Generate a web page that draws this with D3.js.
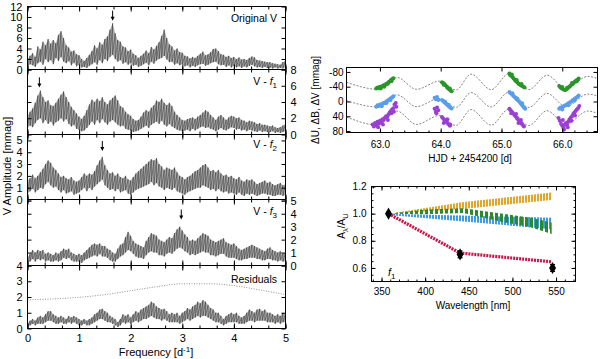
<!DOCTYPE html>
<html>
<head>
<meta charset="utf-8">
<script src="https://cdn.jsdelivr.net/npm/d3@7"></script>
<style>
  body { margin: 0; background: #fff; }
  svg text { font-family: "Liberation Sans", Arial, sans-serif; fill: #000; }
</style>
</head>
<body>
<div id="chart"></div>
<script>
// ---- periodograms: amplitude [mmag] sampled every 0.05 c/d, peaks (hi) and troughs (lo)
const freqs = d3.range(101).map(i => i * 0.05);

const origHi = [2.0,2.6,3.1,2.4,4.4,3.8,5.3,4.6,5.8,4.9,5.6,5.0,6.6,7.3,6.0,4.6,4.2,3.4,3.6,2.9,
  2.7,2.0,1.6,2.2,2.8,3.5,4.6,4.0,5.2,4.7,5.8,6.3,7.6,8.8,6.9,5.6,5.3,4.4,4.2,3.5,
  3.8,3.0,2.7,2.2,2.6,3.0,3.6,3.1,4.3,3.8,4.5,5.2,6.4,7.6,6.0,4.8,4.4,3.6,4.0,3.3,
  3.2,2.6,2.5,2.1,2.4,2.2,2.6,3.0,3.4,2.7,2.9,3.3,3.9,4.0,3.5,2.9,2.8,2.4,2.6,2.2,
  2.4,2.0,2.3,1.9,2.0,1.8,2.2,2.5,2.3,1.8,1.7,1.6,1.5,1.4,1.4,1.2,1.1,1.0,0.9,1.4,1.7];
const origLo = [0.6,1.0,0.8,0.5,1.2,1.5,0.9,2.0,1.4,1.8,1.0,2.2,1.6,2.4,1.5,1.2,1.6,0.8,1.3,0.6,
  0.9,0.4,0.5,0.3,0.7,1.0,1.4,0.9,1.8,1.2,2.0,1.6,2.4,2.8,2.0,1.5,1.8,1.1,1.4,0.9,
  1.2,0.7,0.9,0.5,0.7,1.0,1.3,0.8,1.5,1.1,1.7,2.0,2.2,2.6,1.9,1.4,1.5,0.9,1.2,0.8,
  1.0,0.6,0.8,0.4,0.7,0.5,0.8,1.0,1.1,0.7,0.9,1.2,1.4,1.5,1.0,0.8,0.9,0.5,0.8,0.4,
  0.7,0.4,0.6,0.3,0.6,0.4,0.7,0.9,0.6,0.4,0.5,0.3,0.5,0.3,0.4,0.2,0.4,0.2,0.3,0.2,0.5];

const f1Hi = [2.3,2.8,3.2,3.9,4.8,5.4,4.6,4.0,4.2,3.6,3.5,3.9,4.4,4.9,5.3,4.6,4.0,3.4,3.0,2.6,
  2.2,1.9,2.3,3.0,3.7,4.3,4.0,4.4,4.1,4.6,4.0,3.7,4.2,4.5,4.8,4.2,3.5,3.3,2.8,2.5,
  2.3,1.9,1.7,1.8,2.2,2.7,3.0,2.8,3.3,3.6,4.2,4.0,4.4,3.9,3.6,3.9,3.5,2.8,2.4,2.1,
  1.8,1.7,1.9,2.0,2.1,1.9,2.2,2.4,2.7,3.0,2.8,2.4,2.1,1.8,2.2,2.4,2.1,1.8,2.1,2.3,
  2.2,2.0,2.1,1.8,1.7,1.5,1.7,1.6,1.5,1.3,1.4,1.2,1.2,1.1,1.0,1.1,0.9,0.8,0.9,1.1,1.3];
const f1Lo = [0.8,1.1,0.9,1.4,1.8,2.0,1.4,1.8,1.3,1.6,1.1,1.5,1.7,2.0,1.6,1.9,1.3,1.0,1.2,0.7,
  0.6,0.4,0.5,0.8,1.2,1.6,1.2,1.8,1.4,1.9,1.5,1.2,1.6,1.8,1.5,1.2,1.0,1.1,0.7,0.6,
  0.5,0.3,0.4,0.5,0.7,0.9,1.1,0.8,1.2,1.4,1.6,1.3,1.7,1.2,1.0,1.3,1.0,0.8,0.6,0.5,
  0.4,0.5,0.6,0.4,0.7,0.5,0.7,0.9,1.0,0.8,0.9,0.7,0.6,0.4,0.6,0.8,0.6,0.5,0.7,0.9,
  0.8,0.6,0.7,0.5,0.6,0.4,0.6,0.5,0.4,0.3,0.5,0.3,0.4,0.3,0.3,0.4,0.2,0.3,0.2,0.3,0.4];

const f2Hi = [1.6,1.8,2.1,1.8,2.0,2.3,2.6,3.0,3.3,3.1,2.7,2.5,2.2,1.9,2.0,1.8,1.7,1.9,1.6,1.5,
  1.6,1.9,2.2,2.0,2.2,2.1,2.4,2.9,3.3,3.6,2.9,2.5,2.2,2.3,2.0,2.2,1.9,1.8,2.0,1.7,
  1.6,1.9,2.2,2.4,2.6,2.8,3.0,3.2,3.4,3.3,3.5,3.0,2.8,2.5,2.7,2.6,2.5,2.7,2.3,2.0,
  1.9,1.7,1.9,2.0,2.2,2.4,2.5,2.7,2.9,3.0,2.7,2.4,2.5,2.3,2.5,2.2,2.0,2.1,1.9,2.0,
  1.8,1.7,1.9,1.6,1.5,1.7,1.6,1.7,1.5,1.3,1.4,1.5,1.6,1.4,1.5,1.3,1.2,1.3,1.4,1.2,1.3];
const f2Lo = [0.5,0.7,0.9,0.6,0.8,1.0,0.9,1.3,1.5,1.2,1.0,1.1,0.8,0.6,0.8,0.5,0.6,0.7,0.4,0.5,
  0.6,0.8,1.0,0.7,1.0,0.8,1.1,1.3,1.5,1.7,1.2,1.0,0.8,0.9,0.7,0.9,0.6,0.7,0.8,0.5,
  0.4,0.6,0.8,0.9,1.0,1.1,1.2,1.3,1.5,1.2,1.4,1.1,1.0,0.8,1.0,0.9,0.8,1.0,0.7,0.6,
  0.5,0.4,0.6,0.7,0.8,0.9,1.0,1.0,1.2,1.1,1.0,0.8,0.9,0.7,0.9,0.7,0.6,0.7,0.5,0.6,
  0.5,0.4,0.6,0.4,0.3,0.5,0.4,0.5,0.4,0.3,0.4,0.5,0.5,0.4,0.4,0.3,0.3,0.4,0.4,0.3,0.4];

const f3Hi = [0.6,0.9,1.2,1.0,1.2,1.1,1.2,0.9,1.0,0.9,0.8,1.0,0.9,1.1,1.3,1.2,1.3,1.0,0.9,0.8,
  0.9,0.8,1.0,1.2,1.4,1.6,1.7,1.6,1.7,1.5,1.5,1.3,1.2,1.0,0.9,1.3,1.6,1.7,2.2,2.6,
  2.3,1.9,1.7,1.6,1.5,1.4,1.9,2.2,2.5,2.4,2.3,2.0,1.9,1.8,2.0,2.2,2.1,2.5,2.8,3.0,
  2.7,2.4,2.2,1.9,2.0,1.9,2.1,2.3,2.5,2.4,2.3,2.0,1.9,1.8,1.9,2.0,2.1,1.8,1.7,1.6,
  1.7,1.5,1.3,1.2,1.3,1.4,1.5,1.6,1.5,1.4,1.3,1.2,1.1,1.3,1.4,1.2,1.1,1.0,1.1,0.9,1.0];
const f3Lo = [0.2,0.3,0.5,0.3,0.5,0.4,0.5,0.3,0.4,0.3,0.3,0.4,0.3,0.4,0.6,0.5,0.6,0.4,0.3,0.3,
  0.3,0.2,0.4,0.5,0.6,0.7,0.8,0.7,0.9,0.7,0.7,0.6,0.4,0.3,0.3,0.5,0.7,0.8,1.0,1.2,
  1.1,0.9,0.7,0.6,0.6,0.5,0.8,1.0,1.1,1.0,1.0,0.8,0.8,0.7,0.9,1.0,0.9,1.1,1.3,1.4,
  1.3,1.1,1.0,0.8,0.9,0.8,0.9,1.0,1.1,1.0,1.0,0.8,0.8,0.7,0.8,0.9,0.9,0.7,0.6,0.6,
  0.6,0.5,0.4,0.4,0.5,0.5,0.6,0.6,0.6,0.5,0.5,0.4,0.4,0.5,0.5,0.4,0.4,0.3,0.4,0.3,0.3];

const resHi = [0.3,0.5,0.6,0.5,0.7,0.8,0.7,0.9,1.1,1.1,0.9,0.8,0.7,0.8,0.7,0.6,0.8,0.7,0.8,0.7,
  0.6,0.5,0.6,0.5,0.6,0.7,0.9,1.0,1.2,1.25,1.1,1.0,0.8,0.7,0.6,0.4,0.6,0.9,0.8,0.9,
  0.7,0.9,1.1,1.0,1.2,1.3,1.4,1.5,1.7,1.6,1.4,1.3,1.2,1.25,1.1,0.9,1.0,0.9,1.0,0.8,
  1.0,1.1,1.3,1.2,1.4,1.5,1.7,1.6,1.8,1.7,1.5,1.3,1.2,1.0,1.0,0.8,0.6,0.8,0.9,1.0,
  0.9,1.0,0.8,0.7,0.8,1.0,1.2,1.1,1.0,1.2,1.25,1.1,1.2,1.0,1.0,0.9,0.8,0.9,0.8,1.0,0.9];
const resLo = [0.1,0.2,0.3,0.2,0.3,0.3,0.3,0.4,0.5,0.5,0.4,0.3,0.3,0.4,0.3,0.3,0.4,0.3,0.4,0.3,
  0.2,0.2,0.3,0.2,0.2,0.3,0.4,0.5,0.6,0.6,0.5,0.4,0.4,0.3,0.2,0.1,0.2,0.4,0.3,0.4,
  0.3,0.4,0.5,0.4,0.5,0.6,0.6,0.7,0.8,0.7,0.6,0.6,0.5,0.6,0.5,0.4,0.4,0.4,0.4,0.3,
  0.4,0.5,0.6,0.5,0.6,0.7,0.8,0.7,0.8,0.8,0.7,0.6,0.5,0.4,0.4,0.3,0.2,0.3,0.4,0.4,
  0.4,0.4,0.3,0.3,0.3,0.4,0.5,0.5,0.4,0.5,0.5,0.5,0.5,0.4,0.4,0.4,0.3,0.4,0.3,0.4,0.4];

// significance level in the residual panel
const thrFreq = [0, 0.5, 1.0, 1.5, 2.0, 2.5, 3.0, 3.5, 4.0, 4.5, 5.0];
const thrAmp  = [1.82, 1.88, 1.98, 2.15, 2.40, 2.65, 2.84, 2.84, 2.72, 2.45, 2.15];

// marked frequencies (arrow position, amplitude of arrow tip)
const arrowFreq = [1.65, 0.23, 1.45, 2.98];
const arrowTip  = [9.3, 5.8, 4.1, 3.55];

// ---- light curves, HJD - 2454200 vs mmag
const curveDays = [62.45, 62.97, 63.28, 63.6, 63.98, 64.25, 64.5, 64.83, 65.12, 65.45, 65.75, 66.06, 66.42, 66.58];
const curveV = [-52, -33, -65, -33, -55, -31, -74, -32, -75, -32, -71, -34, -68, -62];
const curveB = [-2, 15, -18, 14, -8, 16, -24, 15, -25, 16, -22, 14, -20, -15];
const curveU = [42, 64, 26, 62, 38, 65, 22, 64, 21, 65, 25, 62, 26, 32];

const ptsV = [[62.94,-35],[62.96,-38],[62.98,-36],[63.00,-40],[63.02,-38],[63.04,-42],[63.06,-44],[63.08,-43],
  [63.10,-47],[63.12,-49],[63.14,-52],[63.16,-54],[63.18,-58],[63.20,-60],[63.22,-63],[63.01,-35],[63.07,-40],
  [63.13,-48],[63.19,-55],
  [64.02,-52],[64.04,-50],[64.06,-47],[64.08,-44],[64.10,-40],[64.12,-36],[64.14,-33],[64.16,-30],[64.18,-28],
  [64.05,-45],[64.11,-38],[64.15,-35],
  [65.13,-76],[65.14,-72],[65.16,-70],[65.18,-66],[65.20,-62],[65.22,-58],[65.24,-55],[65.26,-52],[65.28,-48],
  [65.30,-46],[65.32,-44],[65.34,-42],[65.36,-40],[65.38,-38],[65.17,-73],[65.25,-58],[65.33,-47],
  [65.95,-42],[65.97,-38],[65.99,-36],[66.01,-34],[66.03,-32],[66.05,-31],[66.07,-33],[66.09,-36],[66.11,-39],
  [66.13,-42],[66.15,-45],[66.17,-48],[66.19,-51],[66.21,-54],[66.23,-57],[66.25,-59],[66.27,-62],[66.00,-39],
  [66.08,-37],[66.16,-50],[66.24,-55]];
const ptsB = [[62.94,14],[62.96,10],[62.98,12],[63.00,8],[63.02,10],[63.04,6],[63.06,4],[63.08,5],[63.10,1],
  [63.12,-2],[63.14,-4],[63.16,-6],[63.18,-9],[63.20,-11],[63.22,-14],[63.03,13],[63.11,4],[63.17,-3],
  [63.90,-10],[63.92,-6],[63.94,-12],[63.96,-4],
  [64.02,-4],[64.04,-1],[64.06,2],[64.08,5],[64.10,8],[64.12,11],[64.14,14],[64.16,17],[64.18,19],[64.07,0],[64.13,9],
  [65.13,-26],[65.15,-22],[65.17,-20],[65.19,-16],[65.21,-13],[65.23,-10],[65.25,-6],[65.27,-3],[65.29,0],
  [65.31,4],[65.33,8],[65.35,12],[65.37,16],[65.39,20],[65.18,-22],[65.26,-8],[65.34,5],
  [65.95,20],[65.97,16],[65.99,18],[66.01,14],[66.03,12],[66.05,10],[66.07,9],[66.09,6],[66.11,4],[66.13,2],
  [66.15,0],[66.17,-3],[66.19,-5],[66.21,-8],[66.23,-10],[66.25,-13],[66.27,-16],[66.00,22],[66.10,10],[66.20,-2]];
const ptsU = [[62.88,62],[62.90,68],[62.92,58],[62.94,65],[62.96,55],[62.98,60],[63.00,52],[63.02,56],[63.04,48],
  [63.06,50],[63.08,44],[63.10,40],[63.12,42],[63.14,35],[63.16,30],[63.18,26],[63.20,22],[63.22,18],[62.97,70],
  [63.05,62],[63.13,50],[63.19,32],[63.24,8],[63.26,4],[63.27,14],[63.23,28],
  [63.90,20],[63.92,28],[63.94,16],[63.96,24],[63.93,32],
  [64.02,42],[64.04,46],[64.06,50],[64.08,53],[64.10,56],[64.12,60],[64.14,62],[64.16,64],[64.05,58],[64.11,48],[64.15,66],
  [65.13,20],[65.15,24],[65.17,28],[65.19,32],[65.21,36],[65.23,40],[65.25,44],[65.27,48],[65.29,52],[65.31,56],
  [65.33,60],[65.35,64],[65.37,68],[65.16,32],[65.24,34],[65.32,50],[65.28,58],
  [65.94,45],[65.96,52],[65.98,60],[66.00,66],[66.02,72],[66.04,64],[66.06,58],[66.08,62],[66.10,54],[66.12,48],
  [66.14,44],[66.16,40],[66.18,34],[66.20,30],[66.22,26],[66.24,22],[66.26,18],[66.28,12],[66.03,76],[66.09,70],
  [66.15,52],[66.21,38],[66.01,50]];

// ---- amplitude ratios A_lambda / A_U vs wavelength
const ratioNm  = [358, 440, 546];
const ratioVal = [1.00, 0.70, 0.60];
const ratioErr = [0.01, 0.025, 0.025];
const redNm  = [358, 440, 545];
const redVal = [1.00, 0.71, 0.645];
const orangeNm = [358, 444, 545], orangeLo = [1.0, 1.035, 1.10], orangeHi = [1.0, 1.085, 1.155];
const greenNm = [358, 400, 444, 483, 521, 545];
const greenLo = [1.0, 0.995, 1.005, 0.945, 0.90, 0.85];
const greenHi = [1.0, 1.03, 1.04, 1.005, 0.97, 0.935];
const blueNm = [358, 545], blueLo = [0.99, 0.885], blueHi = [1.0, 0.97];

// ================= drawing =================
const svg = d3.select('#chart').append('svg').attr('width', 600).attr('height', 359);
const defs = svg.append('defs');

function stripes(id, color, on, off) {
  const p = defs.append('pattern').attr('id', id).attr('patternUnits', 'userSpaceOnUse')
    .attr('width', on + off).attr('height', 10);
  p.append('rect').attr('width', on).attr('height', 10).attr('fill', color);
}
stripes('stOrange', '#e2a72a', 2, 1);
stripes('stBlue', '#3d9be3', 2, 1);
stripes('stGreen', '#2b8a2b', 3, 2);

function cleanAxis(g, size) {
  g.select('.domain').remove();
  g.selectAll('line').attr('stroke', '#000');
  g.attr('font-size', size).attr('font-family', null);
}

// ---------- left: stacked periodograms ----------
const x = d3.scaleLinear().domain([0, 5]).range([27.5, 285.5]);
const panels = [
  { hi: origHi, lo: origLo, top: 6.5, bottom: 69.5, max: 12, ticks: [0,2,4,6,8,10,12], side: 'left', name: ['Original V'], ly: 22 },
  { hi: f1Hi, lo: f1Lo, top: 69.5, bottom: 134.5, max: 8, ticks: [0,2,4,6,8], side: 'right', name: ['V - ', 'f', '1'], ly: 85 },
  { hi: f2Hi, lo: f2Lo, top: 134.5, bottom: 199.5, max: 5.5, ticks: [0,1,2,3,4,5], side: 'left', name: ['V - ', 'f', '2'], ly: 148 },
  { hi: f3Hi, lo: f3Lo, top: 199.5, bottom: 265.5, max: 5.1, ticks: [0,1,2,3,4,5], side: 'right', name: ['V - ', 'f', '3'], ly: 215 },
  { hi: resHi, lo: resLo, top: 265.5, bottom: 328.5, max: 4, ticks: [0,1,2,3,4], side: 'left', name: ['Residuals'], ly: 283 }
];
const thirds = d3.range(16).map(i => i / 3);

panels.forEach((p, k) => {
  const y = d3.scaleLinear().domain([0, p.max]).range([p.bottom, p.top]);
  defs.append('clipPath').attr('id', 'pc' + k).append('rect')
    .attr('x', x(0)).attr('y', p.top).attr('width', x(5) - x(0)).attr('height', p.bottom - p.top);
  const g = svg.append('g').attr('clip-path', `url(#pc${k})`);

  g.append('path').datum(p.hi)
    .attr('d', d3.area().x((d, i) => x(freqs[i])).y0((d, i) => y(p.lo[i])).y1(d => y(d)))
    .attr('fill', '#b3b3b3');
  const zig = [];
  p.hi.forEach((h, i) => { zig.push([freqs[i], h]); zig.push([freqs[i], p.lo[i]]); });
  g.append('path').datum(zig)
    .attr('d', d3.line().x(d => x(d[0])).y(d => y(d[1])))
    .attr('fill', 'none').attr('stroke', '#2a2a2a').attr('stroke-width', 0.6).attr('stroke-opacity', 0.85);

  if (k === 4) {
    g.append('path').datum(thrFreq)
      .attr('d', d3.line().x(d => x(d)).y((d, i) => y(thrAmp[i])).curve(d3.curveMonotoneX))
      .attr('fill', 'none').attr('stroke', '#777').attr('stroke-width', 0.8).attr('stroke-dasharray', '1,1.5');
  }
  if (k < 4) {
    const ax = x(arrowFreq[k]), ay = y(arrowTip[k]);
    svg.append('line').attr('x1', ax).attr('x2', ax).attr('y1', ay - 10).attr('y2', ay - 2)
      .attr('stroke', '#000').attr('stroke-width', 1);
    svg.append('path').attr('d', `M${ax - 2},${ay - 4}L${ax + 2},${ay - 4}L${ax},${ay}Z`).attr('fill', '#000');
  }

  // x ticks on top and bottom edges, inward
  [p.top, p.bottom].forEach((yy, j) => {
    const mk = j === 0 ? d3.axisTop(x) : d3.axisBottom(x);
    svg.append('g').attr('transform', `translate(0,${yy})`)
      .call(mk.tickValues(thirds).tickSizeInner(-3).tickSizeOuter(0).tickFormat(''))
      .call(gg => cleanAxis(gg, 11));
    svg.append('g').attr('transform', `translate(0,${yy})`)
      .call(mk.tickValues([0,1,2,3,4,5]).tickSizeInner(-5).tickSizeOuter(0).tickFormat(''))
      .call(gg => cleanAxis(gg, 11));
  });
  // y ticks both sides
  svg.append('g').attr('transform', `translate(${x(0)},0)`)
    .call(d3.axisLeft(y).tickValues(p.ticks).tickSizeInner(-4).tickSizeOuter(0).tickPadding(5)
      .tickFormat(p.side === 'left' ? d => String(d) : ''))
    .call(gg => cleanAxis(gg, 11));
  svg.append('g').attr('transform', `translate(${x(5)},0)`)
    .call(d3.axisRight(y).tickValues(p.ticks).tickSizeInner(-4).tickSizeOuter(0).tickPadding(5)
      .tickFormat(p.side === 'right' ? d => String(d) : ''))
    .call(gg => cleanAxis(gg, 11));

  svg.append('rect').attr('x', x(0)).attr('y', p.top).attr('width', x(5) - x(0)).attr('height', p.bottom - p.top)
    .attr('fill', 'none').attr('stroke', '#000').attr('stroke-width', 1);

  const t = svg.append('text').attr('x', 277).attr('y', p.ly).attr('text-anchor', 'end').attr('font-size', 10.5);
  t.append('tspan').text(p.name[0]);
  if (p.name.length > 1) {
    t.append('tspan').attr('font-style', 'italic').text(p.name[1]);
    t.append('tspan').attr('font-size', 8).attr('dy', 3).text(p.name[2]);
  }
});

svg.append('g').attr('transform', `translate(0,${panels[4].bottom})`)
  .call(d3.axisBottom(x).tickValues([0,1,2,3,4,5]).tickSize(0).tickPadding(6).tickFormat(d => String(d)))
  .call(gg => cleanAxis(gg, 11));

const fl = svg.append('text').attr('x', 156).attr('y', 356).attr('text-anchor', 'middle').attr('font-size', 11);
fl.append('tspan').text('Frequency [d');
fl.append('tspan').attr('font-size', 8).attr('dy', -4).text('-1');
fl.append('tspan').attr('dy', 4).text(']');

svg.append('text').attr('transform', 'translate(11,166) rotate(-90)').attr('text-anchor', 'middle')
  .attr('font-size', 11).text('V Amplitude [mmag]');

// ---------- top right: light curves ----------
const xh = d3.scaleLinear().domain([62.45, 66.58]).range([346.5, 597.5]);
const yh = d3.scaleLinear().domain([-92, 84]).range([67.5, 132.5]);

const lc = svg.append('g');
[curveV, curveB, curveU].forEach(vals => {
  lc.append('path').datum(curveDays)
    .attr('d', d3.line().x(d => xh(d)).y((d, i) => yh(vals[i])).curve(d3.curveMonotoneX))
    .attr('fill', 'none').attr('stroke', '#666').attr('stroke-width', 0.8).attr('stroke-dasharray', '2,1.5');
});
[[ptsU, '#9b3fd4'], [ptsB, '#5a9ded'], [ptsV, '#289628']].forEach(([pts, col]) => {
  lc.selectAll(null).data(pts).join('circle')
    .attr('cx', d => xh(d[0])).attr('cy', d => yh(d[1])).attr('r', 2).attr('fill', col);
});

svg.append('g').attr('transform', `translate(0,${yh.range()[1]})`)
  .call(d3.axisBottom(xh).tickValues([63, 64, 65, 66]).tickSizeInner(-4).tickSizeOuter(0).tickPadding(8).tickFormat(d3.format('.1f')))
  .call(gg => cleanAxis(gg, 10));
svg.append('g').attr('transform', `translate(0,${yh.range()[1]})`)
  .call(d3.axisBottom(xh).tickValues(d3.range(63, 66.5, 0.2)).tickSizeInner(-2).tickSizeOuter(0).tickFormat(''))
  .call(gg => cleanAxis(gg, 10));
svg.append('g').attr('transform', `translate(0,${yh.range()[0]})`)
  .call(d3.axisTop(xh).tickValues([63, 64, 65, 66]).tickSizeInner(-4).tickSizeOuter(0).tickFormat(''))
  .call(gg => cleanAxis(gg, 10));
svg.append('g').attr('transform', `translate(${xh.range()[0]},0)`)
  .call(d3.axisLeft(yh).tickValues([-80, -40, 0, 40, 80]).tickSizeInner(-4).tickSizeOuter(0).tickPadding(3).tickFormat(d => String(d)))
  .call(gg => cleanAxis(gg, 10));
svg.append('g').attr('transform', `translate(${xh.range()[1]},0)`)
  .call(d3.axisRight(yh).tickValues([-80, -40, 0, 40, 80]).tickSizeInner(-4).tickSizeOuter(0).tickFormat(''))
  .call(gg => cleanAxis(gg, 10));
svg.append('rect').attr('x', xh.range()[0]).attr('y', yh.range()[0])
  .attr('width', xh.range()[1] - xh.range()[0]).attr('height', yh.range()[1] - yh.range()[0])
  .attr('fill', 'none').attr('stroke', '#000');
svg.append('text').attr('x', 470).attr('y', 162).attr('text-anchor', 'middle').attr('font-size', 10)
  .text('HJD + 2454200 [d]');
svg.append('text').attr('transform', 'translate(319,100) rotate(-90)').attr('text-anchor', 'middle')
  .attr('font-size', 10).text('\u0394U, \u0394B, \u0394V [mmag]');

// ---------- bottom right: amplitude ratios ----------
const xw = d3.scaleLinear().domain([338.5, 572.3]).range([371.5, 575.5]);
const yw = d3.scaleLinear().domain([0.5, 1.2]).range([281.5, 186.5]);
const ar = svg.append('g');

function wedge(nm, lo, hi, fill) {
  ar.append('path').datum(nm)
    .attr('d', d3.area().x(d => xw(d)).y0((d, i) => yw(lo[i])).y1((d, i) => yw(hi[i])))
    .attr('fill', fill);
}
wedge(orangeNm, orangeLo, orangeHi, 'url(#stOrange)');
wedge(blueNm, blueLo, blueHi, 'url(#stBlue)');
wedge(greenNm, greenLo, greenHi, 'url(#stGreen)');

ar.append('path').datum(redNm)
  .attr('d', d3.line().x(d => xw(d)).y((d, i) => yw(redVal[i])))
  .attr('fill', 'none').attr('stroke', '#c8174b').attr('stroke-width', 3.2).attr('stroke-dasharray', '2,1');

ratioNm.forEach((nm, i) => {
  const cx = xw(nm);
  ar.append('line').attr('x1', cx).attr('x2', cx)
    .attr('y1', yw(ratioVal[i] - ratioErr[i])).attr('y2', yw(ratioVal[i] + ratioErr[i]))
    .attr('stroke', '#000').attr('stroke-width', 1.5);
  [ratioVal[i] - ratioErr[i], ratioVal[i] + ratioErr[i]].forEach(v => {
    ar.append('line').attr('x1', cx - 2.5).attr('x2', cx + 2.5).attr('y1', yw(v)).attr('y2', yw(v))
      .attr('stroke', '#000').attr('stroke-width', 1.2);
  });
  ar.append('path').attr('transform', `translate(${cx},${yw(ratioVal[i])})`)
    .attr('d', d3.symbol(d3.symbolDiamond, 42)()).attr('fill', '#000');
});

svg.append('g').attr('transform', `translate(0,${yw.range()[0]})`)
  .call(d3.axisBottom(xw).tickValues([350, 400, 450, 500, 550]).tickSizeInner(-4).tickSizeOuter(0).tickPadding(6).tickFormat(d => String(d)))
  .call(gg => cleanAxis(gg, 10));
svg.append('g').attr('transform', `translate(0,${yw.range()[0]})`)
  .call(d3.axisBottom(xw).tickValues(d3.range(340, 571, 10)).tickSizeInner(-2).tickSizeOuter(0).tickFormat(''))
  .call(gg => cleanAxis(gg, 10));
svg.append('g').attr('transform', `translate(0,${yw.range()[1]})`)
  .call(d3.axisTop(xw).tickValues([350, 400, 450, 500, 550]).tickSizeInner(-4).tickSizeOuter(0).tickFormat(''))
  .call(gg => cleanAxis(gg, 10));
svg.append('g').attr('transform', `translate(0,${yw.range()[1]})`)
  .call(d3.axisTop(xw).tickValues(d3.range(340, 571, 10)).tickSizeInner(-2).tickSizeOuter(0).tickFormat(''))
  .call(gg => cleanAxis(gg, 10));
svg.append('g').attr('transform', `translate(${xw.range()[0]},0)`)
  .call(d3.axisLeft(yw).tickValues([0.6, 0.8, 1.0, 1.2]).tickSizeInner(-4).tickSizeOuter(0).tickPadding(5).tickFormat(d3.format('.1f')))
  .call(gg => cleanAxis(gg, 10));
svg.append('g').attr('transform', `translate(${xw.range()[0]},0)`)
  .call(d3.axisLeft(yw).tickValues(d3.range(0.55, 1.2, 0.05)).tickSizeInner(-2).tickSizeOuter(0).tickFormat(''))
  .call(gg => cleanAxis(gg, 10));
svg.append('g').attr('transform', `translate(${xw.range()[1]},0)`)
  .call(d3.axisRight(yw).tickValues([0.6, 0.8, 1.0, 1.2]).tickSizeInner(-4).tickSizeOuter(0).tickFormat(''))
  .call(gg => cleanAxis(gg, 10));
svg.append('g').attr('transform', `translate(${xw.range()[1]},0)`)
  .call(d3.axisRight(yw).tickValues(d3.range(0.55, 1.2, 0.05)).tickSizeInner(-2).tickSizeOuter(0).tickFormat(''))
  .call(gg => cleanAxis(gg, 10));
svg.append('rect').attr('x', xw.range()[0]).attr('y', yw.range()[1])
  .attr('width', xw.range()[1] - xw.range()[0]).attr('height', yw.range()[0] - yw.range()[1])
  .attr('fill', 'none').attr('stroke', '#000');

const fa = svg.append('text').attr('x', 388).attr('y', 276).attr('font-size', 10.5);
fa.append('tspan').attr('font-style', 'italic').text('f');
fa.append('tspan').attr('font-size', 8).attr('dy', 3).text('1');

const yl = svg.append('text').attr('transform', 'translate(345,226) rotate(-90)').attr('text-anchor', 'middle').attr('font-size', 10);
yl.append('tspan').text('A');
yl.append('tspan').attr('font-size', 7.5).attr('dy', 3).text('\u03bb');
yl.append('tspan').attr('dy', -3).text('/A');
yl.append('tspan').attr('font-size', 7.5).attr('dy', 3).text('U');

svg.append('text').attr('x', 473).attr('y', 309).attr('text-anchor', 'middle').attr('font-size', 10)
  .text('Wavelength [nm]');
</script>
</body>
</html>
